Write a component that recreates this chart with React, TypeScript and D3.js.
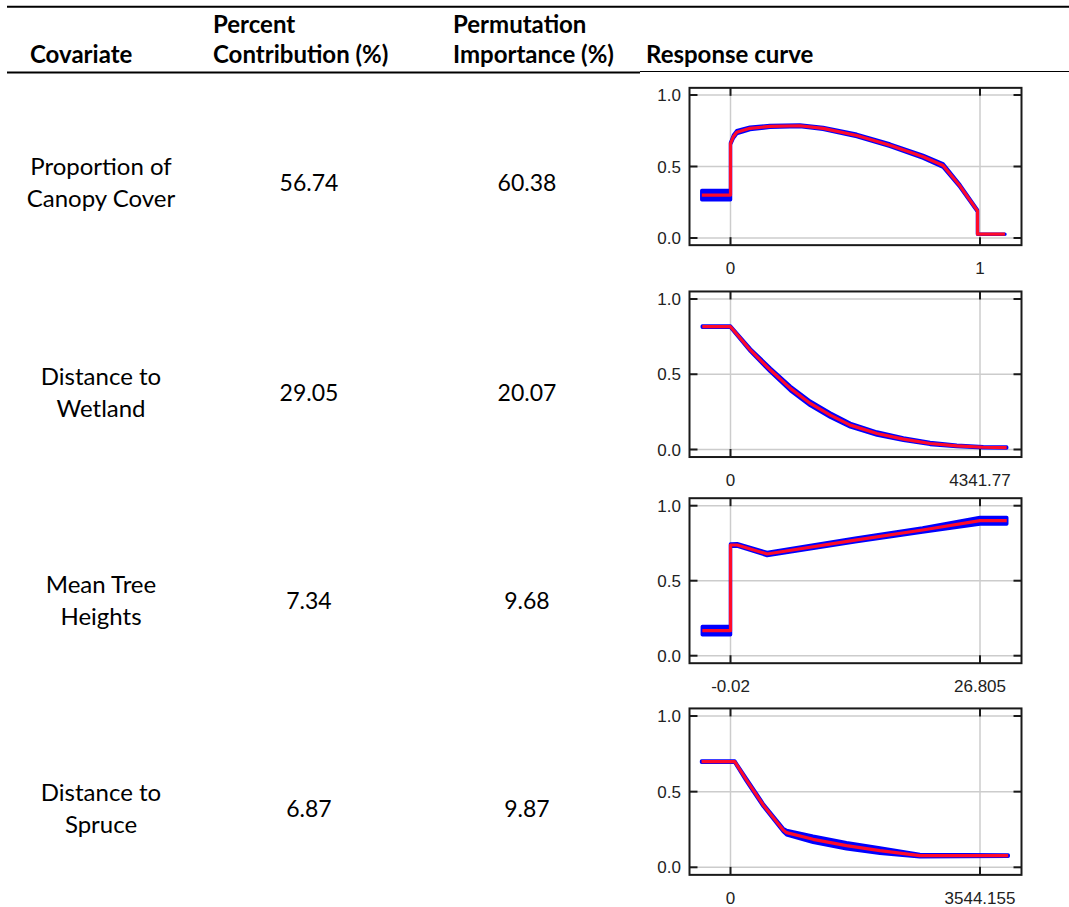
import React, { useRef, useEffect } from 'react';
import * as d3 from 'd3';

// table values
const covariates = [['Proportion of', 'Canopy Cover'], ['Distance to', 'Wetland'], ['Mean Tree', 'Heights'], ['Distance to', 'Spruce']];
const contribution = ['56.74', '29.05', '7.34', '6.87'];
const permutation = ['60.38', '20.07', '9.68', '9.87'];

// response curve axes
const xMin = [0, 0, -0.02, 0];
const xMax = [1, 4341.77, 26.805, 3544.155];
const xTickLabels = [['0', '1'], ['0', '4341.77'], ['-0.02', '26.805'], ['0', '3544.155']];
const yTicks = [0, 0.5, 1];

// curves: x, mean response, half width of the blue band
const canopyX = [-0.115, 0, 0, 0.012, 0.025, 0.078, 0.158, 0.278, 0.371, 0.506, 0.639, 0.772, 0.852, 0.92, 0.99, 0.99, 1.1];
const canopyY = [0.3, 0.3, 0.66, 0.71, 0.74, 0.767, 0.78, 0.785, 0.767, 0.717, 0.649, 0.568, 0.507, 0.363, 0.19, 0.027, 0.027];
const canopySd = [0.032, 0.032, 0.006, 0.01, 0.01, 0.008, 0.006, 0.006, 0.006, 0.008, 0.008, 0.01, 0.012, 0.008, 0.006, 0, 0];

const wetlandX = [-491, 0, 347, 695, 1042, 1389, 1737, 2084, 2549, 3009, 3473, 3938, 4398, 4806];
const wetlandY = [0.816, 0.816, 0.66, 0.528, 0.406, 0.306, 0.228, 0.162, 0.106, 0.069, 0.04, 0.024, 0.015, 0.013];
const wetlandSd = [0.004, 0.004, 0.008, 0.012, 0.014, 0.014, 0.014, 0.012, 0.01, 0.008, 0.006, 0.004, 0.003, 0.003];

const heightX = [-3.05, -0.02, -0.02, 0.7, 3.92, 13.39, 20.63, 26.805, 29.68];
const heightY = [0.167, 0.167, 0.738, 0.738, 0.678, 0.771, 0.838, 0.9, 0.9];
const heightSd = [0.028, 0.028, 0.006, 0.008, 0.01, 0.012, 0.014, 0.022, 0.022];

const spruceX = [-411, 60, 227, 464, 748, 797, 1173, 1648, 2123, 2690, 3945];
const spruceY = [0.698, 0.698, 0.577, 0.412, 0.247, 0.229, 0.185, 0.143, 0.11, 0.077, 0.077];
const spruceSd = [0.004, 0.004, 0.008, 0.008, 0.01, 0.014, 0.02, 0.02, 0.018, 0.008, 0.004];

const curves = [
  [canopyX, canopyY, canopySd],
  [wetlandX, wetlandY, wetlandSd],
  [heightX, heightY, heightSd],
  [spruceX, spruceY, spruceSd],
];

// layout
const W = 1069, H = 907;
const frameX = [689.5, 1021.5];
const gridX = [730.5, 980];
const panelY = [[238, 95], [449.5, 299], [655.7, 505.7], [867.3, 716]]; // pixel of 0.0 and 1.0
const rowBase = [191, 401, 609, 817];
const colMid = [101, 309, 527];

const bodyFont = 'Lato, "Open Sans", sans-serif';
const axisFont = '"Liberation Sans", Arial, sans-serif';

const App = () => {
  const svgRef = useRef<SVGSVGElement>(null);

  useEffect(() => {
    const svg = d3.select(svgRef.current);
    svg.selectAll('*').remove();
    svg.attr('style', 'background-color: #ffffff; position: absolute; left: 0; top: 0');

    // header rules
    svg.append('line').attr('x1', 7).attr('x2', W).attr('y1', 6.7).attr('y2', 6.7)
      .attr('stroke', 'black').attr('stroke-width', 2);
    svg.append('line').attr('x1', 7).attr('x2', 640).attr('y1', 72.5).attr('y2', 72.5)
      .attr('stroke', 'black').attr('stroke-width', 2.2);
    svg.append('line').attr('x1', 640).attr('x2', W).attr('y1', 71.5).attr('y2', 71.5)
      .attr('stroke', 'black').attr('stroke-width', 1);

    const header = [
      { x: 30, lines: ['', 'Covariate'] },
      { x: 213, lines: ['Percent', 'Contribution (%)'] },
      { x: 453, lines: ['Permutation', 'Importance (%)'] },
      { x: 646, lines: ['', 'Response curve'] },
    ];
    header.forEach(h => {
      h.lines.forEach((t, k) => {
        if (!t) return;
        svg.append('text')
          .attr('x', h.x).attr('y', k === 0 ? 33 : 63)
          .attr('font-family', bodyFont).attr('font-weight', 'bold').attr('font-size', '24px')
          .attr('fill', 'black')
          .text(t);
      });
    });

    // table rows
    covariates.forEach((c, i) => {
      const base = rowBase[i];
      c.forEach((t, k) => {
        svg.append('text')
          .attr('x', colMid[0]).attr('y', base - 16 + k * 32)
          .attr('text-anchor', 'middle')
          .attr('font-family', bodyFont).attr('font-size', '24px').attr('fill', 'black')
          .text(t);
      });
      svg.append('text')
        .attr('x', colMid[1]).attr('y', base)
        .attr('text-anchor', 'middle')
        .attr('font-family', bodyFont).attr('font-size', '23px').attr('fill', 'black')
        .text(contribution[i]);
      svg.append('text')
        .attr('x', colMid[2]).attr('y', base)
        .attr('text-anchor', 'middle')
        .attr('font-family', bodyFont).attr('font-size', '23px').attr('fill', 'black')
        .text(permutation[i]);
    });

    // response curve panels
    curves.forEach((cv, i) => {
      const x = d3.scaleLinear().domain([xMin[i], xMax[i]]).range(gridX);
      const y = d3.scaleLinear().domain([0, 1]).range(panelY[i]);
      const top = y(1.05), bottom = y(-0.05);
      const g = svg.append('g');

      // grid
      yTicks.forEach(v => {
        g.append('line').attr('x1', frameX[0]).attr('x2', frameX[1]).attr('y1', y(v)).attr('y2', y(v))
          .attr('stroke', '#cccccc').attr('stroke-width', 1.5);
      });
      [xMin[i], xMax[i]].forEach(v => {
        g.append('line').attr('x1', x(v)).attr('x2', x(v)).attr('y1', top).attr('y2', bottom)
          .attr('stroke', '#cccccc').attr('stroke-width', 1.5);
      });

      const pts = cv[0].map((xv, k) => ({ x: xv, m: cv[1][k], s: cv[2][k] }));

      const band = d3.area<any>()
        .x(d => x(d.x))
        .y0(d => y(d.m - d.s))
        .y1(d => y(d.m + d.s));
      g.append('path').attr('d', band(pts))
        .attr('fill', '#0000ff').attr('stroke', '#0000ff')
        .attr('stroke-width', 3.5).attr('stroke-linejoin', 'round');

      const line = d3.line<any>().x(d => x(d.x)).y(d => y(d.m));
      g.append('path').attr('d', line(pts))
        .attr('fill', 'none').attr('stroke', '#ff0a2a')
        .attr('stroke-width', 3.2).attr('stroke-linejoin', 'round');

      // frame
      g.append('rect').attr('x', frameX[0]).attr('y', top)
        .attr('width', frameX[1] - frameX[0]).attr('height', bottom - top)
        .attr('fill', 'none').attr('stroke', '#1a1a1a').attr('stroke-width', 2);

      // ticks
      yTicks.forEach(v => {
        g.append('line').attr('x1', frameX[0]).attr('x2', frameX[0] + 8).attr('y1', y(v)).attr('y2', y(v))
          .attr('stroke', '#1a1a1a').attr('stroke-width', 2);
        g.append('line').attr('x1', frameX[1] - 8).attr('x2', frameX[1]).attr('y1', y(v)).attr('y2', y(v))
          .attr('stroke', '#1a1a1a').attr('stroke-width', 2);
        g.append('text')
          .attr('x', 681).attr('y', y(v) + 6)
          .attr('text-anchor', 'end')
          .attr('font-family', axisFont).attr('font-size', '17px').attr('fill', '#222')
          .text(d3.format('.1f')(v));
      });
      [xMin[i], xMax[i]].forEach((v, k) => {
        g.append('line').attr('x1', x(v)).attr('x2', x(v)).attr('y1', top).attr('y2', top + 8)
          .attr('stroke', '#1a1a1a').attr('stroke-width', 2);
        g.append('line').attr('x1', x(v)).attr('x2', x(v)).attr('y1', bottom - 8).attr('y2', bottom)
          .attr('stroke', '#1a1a1a').attr('stroke-width', 2);
        g.append('text')
          .attr('x', x(v)).attr('y', bottom + 29)
          .attr('text-anchor', 'middle')
          .attr('font-family', axisFont).attr('font-size', '17px').attr('fill', '#222')
          .text(xTickLabels[i][k]);
      });
    });
  }, []);

  return (
    <div>
      <svg ref={svgRef} width={W} height={H}></svg>
    </div>
  );
};

export default App;
